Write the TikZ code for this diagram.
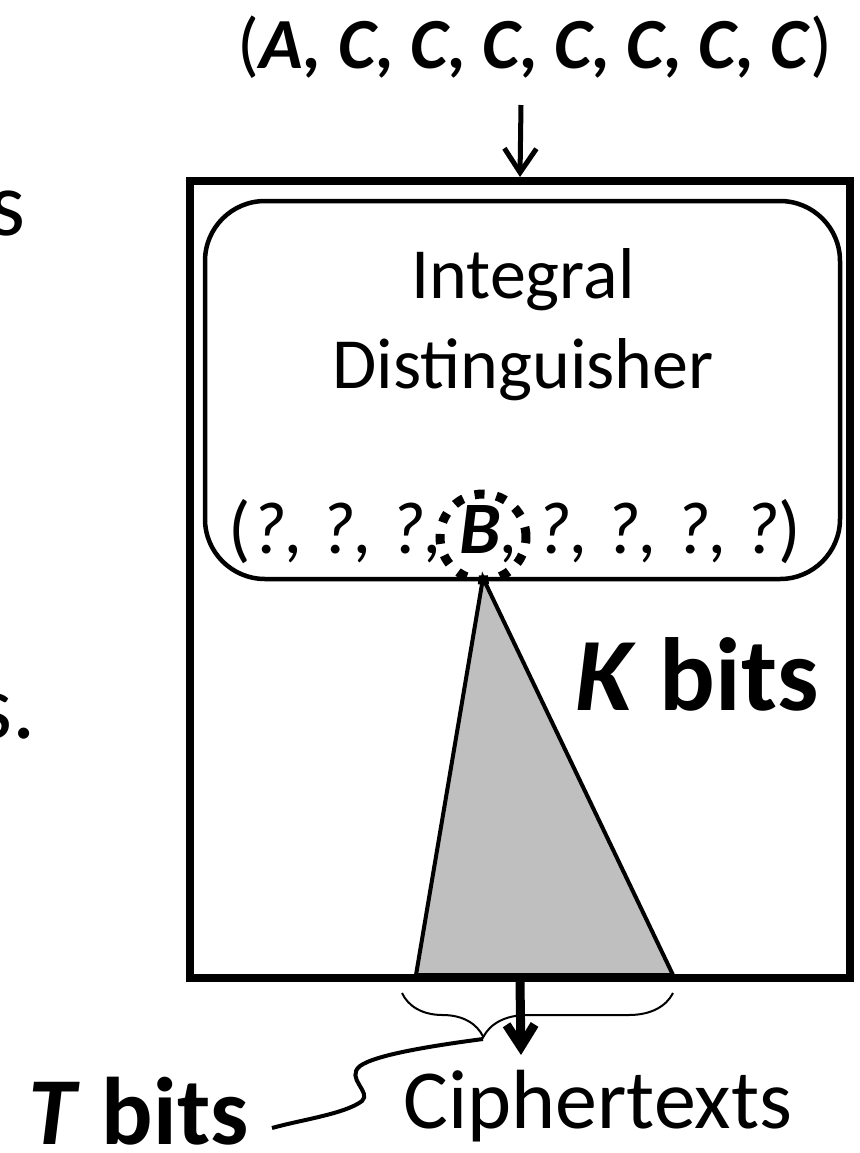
\documentclass[tikz,border=0pt]{standalone}
\usepackage{fontspec}
\setmainfont{Carlito}
\usepackage{tikz}
\usetikzlibrary{arrows.meta,decorations.pathreplacing}

\begin{document}
\begin{tikzpicture}[x=0.5pt,y=-0.5pt,
    txt/.style={inner sep=0pt,anchor=base},
    topar/.style={line width=2.5pt,-{Straight Barb[length=12pt,width=16pt]}},
    botar/.style={line width=4.5pt,-{Straight Barb[length=11pt,width=14pt]}}]
\useasboundingbox (0,0) rectangle (859,1153);
\clip (0,0) rectangle (859,1153);

\node[txt,anchor=base east,font=\fontsize{46}{46}\selectfont] (l1) at (26,235) {s};
\node[txt,anchor=base east,font=\fontsize{46}{46}\selectfont] (l2) at (36,738) {s.};

\node[txt,font=\fontsize{36}{36}\selectfont] (in) at (535,68) {(\textbf{\textit{A, C, C, C, C, C, C, C}})};
\node[draw,line width=4pt,inner sep=0pt,minimum width=330pt,minimum height=398.5pt] (box) at (520,579.5) {};
\coordinate (a) at (521,105);
\draw[topar] (a) -- (box.north);

\node[draw,line width=2.25pt,rounded corners=30pt,inner sep=0pt,minimum width=317.5pt,minimum height=189pt] (dist) at (522.5,390) {};
\node[txt,align=center,font=\fontsize{36}{45}\selectfont] (name) at (523,388) {Integral\\Distinguisher};

\coordinate (top) at (483,578);
\draw[line width=2pt,fill=gray!50] (top) -- (673,975) -- (416,975) -- cycle;

\node[txt,font=\fontsize{37}{37}\selectfont] (row) at (515,553) {(\textit{?, ?, ?, \textbf{B}, ?, ?, ?, ?})};
\node[circle,draw,line width=4.5pt,dash pattern=on 5pt off 6pt,minimum size=43pt,inner sep=0pt] (bc) at (483,537) {};

\node[txt,anchor=base west,font=\fontsize{52}{52}\selectfont\bfseries] (kb) at (575,710) {\textit{K} bits};

\coordinate (b) at (521,1055);
\draw[botar] (box.south) -- (b);
\node[txt,font=\fontsize{42}{42}\selectfont] (ct) at (598,1128) {Ciphertexts};

\draw[line width=1pt,decorate,decoration={brace,mirror,amplitude=22pt,aspect=0.3}] (402,993) -- (673,993);
\coordinate (tip) at (483,1039);
\node[txt,anchor=base east,font=\fontsize{48}{48}\selectfont\bfseries] (tb) at (249,1144) {\textit{T} bits};
\coordinate (w) at (272,1128);
\draw[line width=2pt] (tip) .. controls (430,1046) and (375,1055) .. (360,1066)
    .. controls (345,1078) and (372,1092) .. (362,1101)
    .. controls (345,1114) and (300,1120) .. (w);
\end{tikzpicture}
\end{document}
